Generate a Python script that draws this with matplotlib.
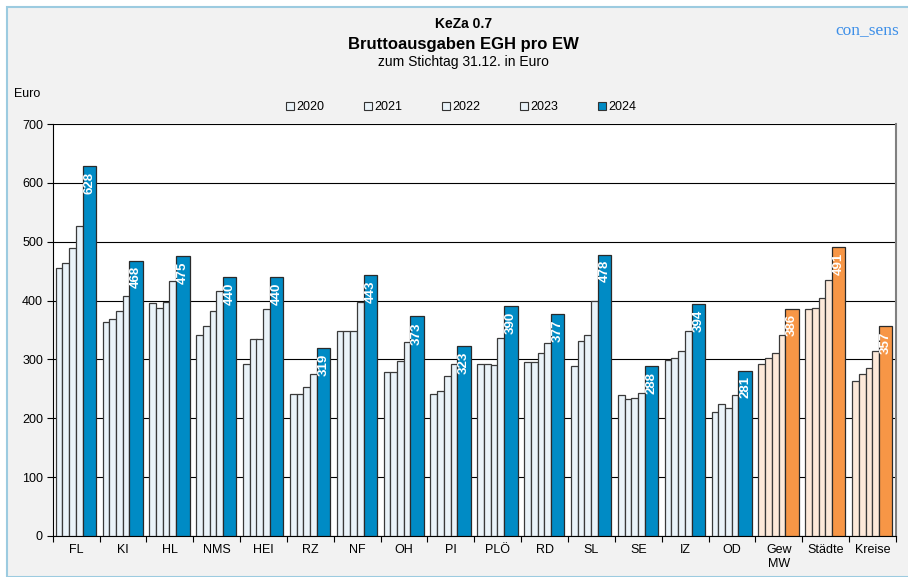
import numpy as np
import matplotlib
matplotlib.use('Agg')
import matplotlib.pyplot as plt
from matplotlib.patches import Patch, Rectangle

plt.rcParams['font.family'] = ['Liberation Sans', 'DejaVu Sans']

#%% daten (Euro pro EW)
kreise = ['FL', 'KI', 'HL', 'NMS', 'HEI', 'RZ', 'NF', 'OH', 'PI', 'PLÖ',
          'RD', 'SL', 'SE', 'IZ', 'OD', 'Gew\nMW', 'Städte', 'Kreise']
jahre = ['2020', '2021', '2022', '2023', '2024']
w2020 = [455, 363, 396, 341, 293, 241, 349, 279, 242, 292, 296, 289, 240, 299, 210, 292, 386, 263]
w2021 = [464, 368, 387, 356, 334, 241, 349, 278, 247, 292, 296, 332, 232, 302, 224, 302, 388, 276]
w2022 = [490, 382, 398, 383, 334, 254, 349, 297, 271, 290, 311, 342, 234, 314, 217, 311, 404, 286]
w2023 = [527, 407, 434, 416, 386, 276, 397, 330, 293, 336, 328, 399, 243, 349, 239, 341, 435, 315]
w2024 = [628, 468, 475, 440, 440, 319, 443, 373, 323, 390, 377, 478, 288, 394, 281, 386, 491, 357]

blau = '#008bc5'
hellblau = '#eaf3f9'
orange = '#f79646'
hellorange = '#fde9d9'
n_kom = 15  # die ersten 15 sind Kreise/Städte, dann Vergleichswerte

#%% figur
fig = plt.figure(figsize=(9.08, 5.77), dpi=100)
fig.patch.set_facecolor('white')
fig.patches.append(Rectangle((7/908, 0), 1, (577-7)/577, transform=fig.transFigure,
                             facecolor='#f2f2f2', edgecolor='#9ccbe0', lw=1.5, zorder=-10))

ax = fig.add_axes([52.7/908, 41/577, (896-52.7)/908, (536-124)/577])
ax.set_facecolor('white')

x = np.arange(len(kreise))
bw = 6.7/46.85
alte = [w2020, w2021, w2022, w2023]
for i in range(len(kreise)):
    hell = hellblau if i < n_kom else hellorange
    dunkel = blau if i < n_kom else orange
    x0 = i + 3/46.85
    for j, w in enumerate(alte):
        ax.bar(x0 + j*bw, w[i], width=bw, align='edge', color=hell,
               edgecolor='#3a3a3a', lw=0.9, zorder=3)
    ax.bar(x0 + 4*bw, w2024[i], width=2*bw, align='edge', color=dunkel,
           edgecolor='#2a2a2a', lw=0.9, zorder=3)
    ax.annotate(str(w2024[i]), (x0 + 5*bw, w2024[i]), xytext=(0, -4),
                textcoords='offset points', rotation=90, ha='center', va='top',
                color='white', fontweight='bold', fontsize=9.5, zorder=4)

ax.set_xlim(0, len(kreise))
ax.set_ylim(0, 700)
ax.set_yticks(np.arange(0, 701, 100))
ax.yaxis.grid(True, color='black', lw=0.8, zorder=1)
ax.set_xticks(np.arange(0, len(kreise)+1))
ax.set_xticklabels([])
ax.set_xticks(x + 0.5, minor=True)
ax.set_xticklabels(kreise, minor=True, fontsize=9)
ax.tick_params(axis='x', which='minor', length=0, pad=6)
ax.tick_params(axis='x', which='major', length=4, direction='out')
ax.tick_params(axis='y', length=4, labelsize=9, pad=3)
for s in ['left', 'bottom']:
    ax.spines[s].set_color('black')
ax.spines['top'].set_visible(False)
ax.spines['right'].set_color('#808080')
ax.spines['right'].set_linewidth(1.5)

#%% texte
fig.text(0.51, 1-24/577, 'KeZa 0.7', ha='center', va='center', fontsize=10, fontweight='bold')
fig.text(0.51, 1-44/577, 'Bruttoausgaben EGH pro EW', ha='center', va='center', fontsize=12, fontweight='bold')
fig.text(0.51, 1-62/577, 'zum Stichtag 31.12. in Euro', ha='center', va='center', fontsize=10)
fig.text(867/908, 1-30/577, 'con_sens', ha='center', va='center', fontsize=12.5,
         color='#3d8fe8', family=['Liberation Serif', 'DejaVu Serif'])
fig.text(14/908, 1-94/577, 'Euro', ha='left', va='center', fontsize=9)

handles = [Patch(facecolor=hellblau, edgecolor='#333333', lw=0.8) for _ in range(4)]
handles.append(Patch(facecolor=blau, edgecolor='#333333', lw=0.8))
fig.legend(handles, jahre, loc='center', bbox_to_anchor=(0.508, 1-107/577), ncol=5,
           frameon=False, fontsize=9, handlelength=0.6, handleheight=0.6,
           handletextpad=0.2, columnspacing=3.2)

plt.savefig('out.png', dpi=100)
